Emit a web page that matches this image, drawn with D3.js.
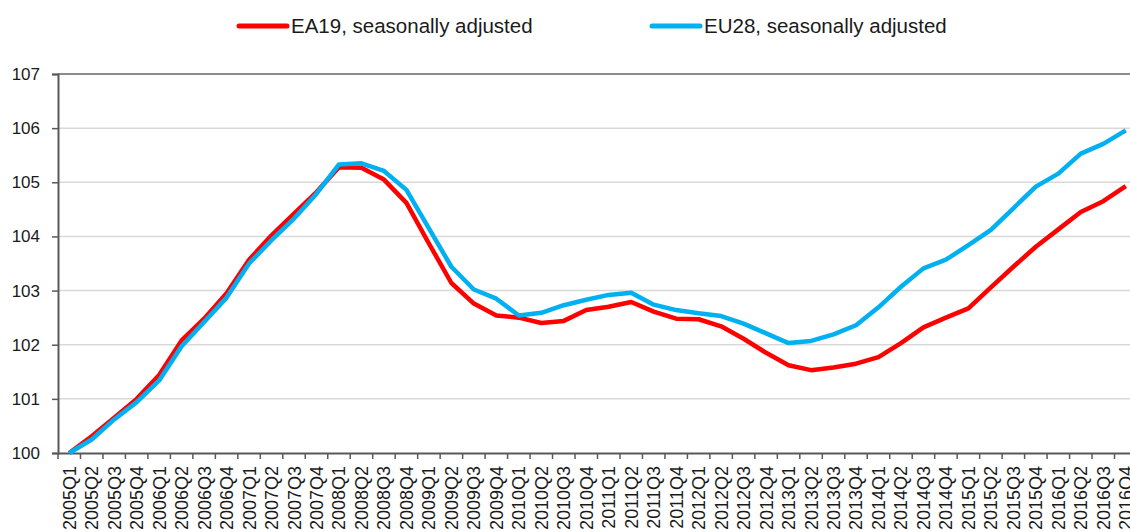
<!DOCTYPE html>
<html>
<head>
<meta charset="utf-8">
<script src="https://cdn.jsdelivr.net/npm/d3@7"></script>
<style>
  body { margin: 0; background: #fff; }
  svg { display: block; font-family: "Liberation Sans", Arial, sans-serif; }
</style>
</head>
<body>
<div id="chart"></div>
<script>
const quarters = [];
for (let yr = 2005; yr <= 2016; yr++) {
    for (let q = 1; q <= 4; q++) quarters.push(yr + "Q" + q);
}

const ea19 = [
    100.0, 100.31, 100.65, 101.0, 101.44, 102.08, 102.48, 102.95,
    103.57, 104.02, 104.42, 104.82, 105.28, 105.27, 105.05, 104.62,
    103.87, 103.14, 102.76, 102.54, 102.5, 102.4, 102.44, 102.64,
    102.7, 102.79, 102.61, 102.48, 102.47, 102.34, 102.11, 101.85,
    101.62, 101.53, 101.58, 101.65, 101.77, 102.03, 102.32, 102.5,
    102.67, 103.06, 103.44, 103.81, 104.13, 104.45, 104.65, 104.93
];

const eu28 = [
    100.0, 100.25, 100.62, 100.94, 101.34, 101.97, 102.42, 102.87,
    103.5, 103.93, 104.33, 104.79, 105.33, 105.35, 105.21, 104.86,
    104.15, 103.44, 103.02, 102.85, 102.54, 102.59, 102.73, 102.83,
    102.92, 102.96, 102.74, 102.64, 102.58, 102.53, 102.39, 102.21,
    102.03, 102.07, 102.19, 102.36, 102.69, 103.07, 103.41, 103.57,
    103.84, 104.12, 104.52, 104.92, 105.16, 105.53, 105.71, 105.96
];

const yTicks = [100, 101, 102, 103, 104, 105, 106, 107];

const series = [
    { name: "EA19, seasonally adjusted", values: ea19, color: "#ff0000", legendX: 239 },
    { name: "EU28, seasonally adjusted", values: eu28, color: "#00b0f0", legendX: 652 }
];

const W = 1130, H = 532;
const plot = { left: 58, right: 1137, top: 74, bottom: 453 };

const svg = d3.select("#chart").append("svg")
    .attr("width", W)
    .attr("height", H);

const x = d3.scaleBand().domain(quarters).range([plot.left, plot.right]).padding(0);
const y = d3.scaleLinear().domain([100, 107]).range([plot.bottom, plot.top]);

// Gridlines
svg.append("g")
    .selectAll("line")
    .data(yTicks.filter(d => d > 100 && d < 107))
    .join("line")
    .attr("x1", plot.left).attr("x2", plot.right)
    .attr("y1", d => y(d)).attr("y2", d => y(d))
    .attr("stroke", "#d9d9d9")
    .attr("stroke-width", 1.5);

// Top border
svg.append("line")
    .attr("x1", plot.left).attr("x2", plot.right)
    .attr("y1", y(107)).attr("y2", y(107))
    .attr("stroke", "#8c8c8c")
    .attr("stroke-width", 2);

// Y axis
const yAxis = svg.append("g")
    .attr("transform", `translate(${plot.left},0)`)
    .call(d3.axisLeft(y).tickValues(yTicks).tickSize(6).tickPadding(12).tickFormat(d3.format("d")));
yAxis.select(".domain").attr("stroke", "#595959").attr("stroke-width", 2);
yAxis.selectAll(".tick line").attr("stroke", "#595959").attr("stroke-width", 1.5);
yAxis.selectAll("text")
    .attr("font-size", 17)
    .attr("fill", "#1a1a1a")
    .style("font-family", "'Liberation Sans', Arial, sans-serif");

// X axis
const xAxis = svg.append("g")
    .attr("transform", `translate(0,${plot.bottom})`)
    .call(d3.axisBottom(x).tickSize(0));
xAxis.select(".domain").attr("stroke", "#595959").attr("stroke-width", 2);
xAxis.selectAll("text")
    .attr("transform", "rotate(-90)")
    .attr("x", -13)
    .attr("y", 0)
    .attr("dy", "0.36em")
    .attr("text-anchor", "end")
    .attr("font-size", 18)
    .attr("fill", "#1a1a1a")
    .style("font-family", "'Liberation Sans', Arial, sans-serif");

// Tick marks between categories
xAxis.append("g")
    .selectAll("line")
    .data(quarters)
    .join("line")
    .attr("x1", d => x(d)).attr("x2", d => x(d))
    .attr("y1", 0).attr("y2", 6)
    .attr("stroke", "#595959")
    .attr("stroke-width", 1.5);

// Lines
const line = d3.line()
    .x((d, i) => x(quarters[i]) + x.bandwidth() / 2)
    .y(d => y(d));

series.forEach(s => {
    svg.append("path")
        .datum(s.values)
        .attr("fill", "none")
        .attr("stroke", s.color)
        .attr("stroke-width", 4.5)
        .attr("stroke-linejoin", "round")
        .attr("d", line);
});

// Legend
const legend = svg.append("g");
series.forEach(s => {
    legend.append("line")
        .attr("x1", s.legendX).attr("x2", s.legendX + 48)
        .attr("y1", 26).attr("y2", 26)
        .attr("stroke", s.color)
        .attr("stroke-width", 5)
        .attr("stroke-linecap", "round");
    legend.append("text")
        .attr("x", s.legendX + 52)
        .attr("y", 33)
        .attr("font-size", 20.5)
        .attr("fill", "#1a1a1a")
        .text(s.name);
});
</script>
</body>
</html>
